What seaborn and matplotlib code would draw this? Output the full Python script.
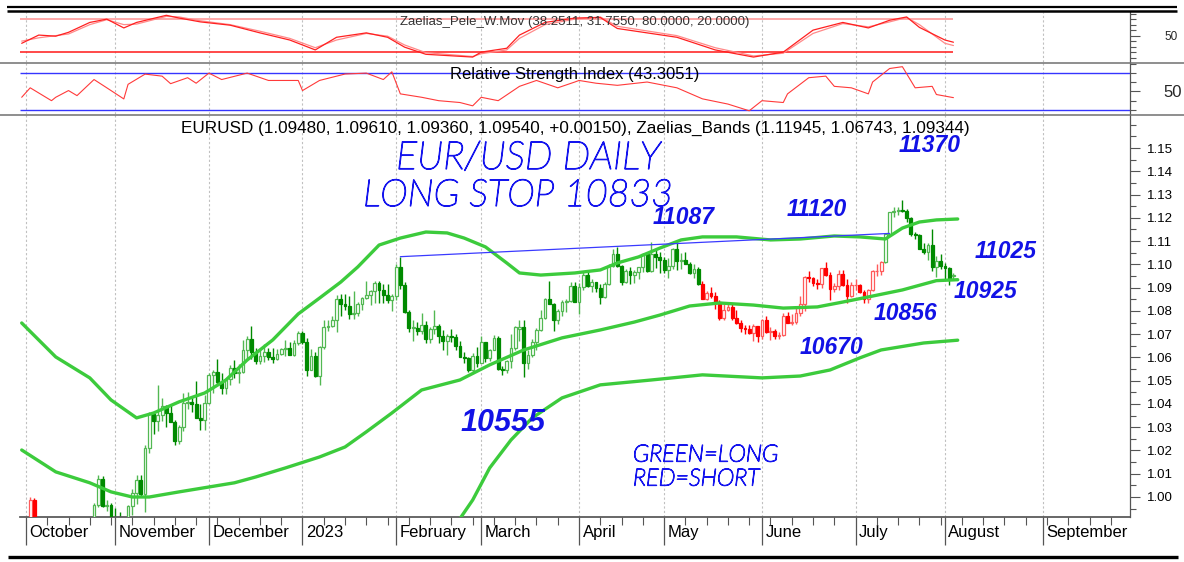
import matplotlib
matplotlib.use("Agg")
import matplotlib.pyplot as plt
import matplotlib.transforms as mtransforms
import matplotlib.patheffects as pe
from matplotlib.lines import Line2D
from matplotlib.ticker import FixedLocator
import seaborn as sns
import numpy as np
import pandas as pd

sns.set_theme(style="white")
plt.rcParams["font.family"] = ["Liberation Sans", "DejaVu Sans"]

# ---------------- data (prices in pips, 1/10000) ----------------
# trading-day index 0 = 2022-09-29, first candle at index 2 (2022-10-03)
first_candle = 2

opens = [
    9800, 9823, 9985, 9883, 9793, 9740, 9700, 9707, 9703, 9779, 9723, 9837, 9856, 9776, 9784, 9862, 9876, 9965, 10076, 9963, 9964,
    9882, 9875, 9820, 9750, 9960, 10019, 10073, 10011, 10210, 10355, 10325, 10352, 10393, 10363, 10324, 10242, 10300, 10405, 10410, 10398, 10339, 10329,
    10405, 10523, 10538, 10494, 10467, 10506, 10555, 10535, 10536, 10630, 10680, 10625, 10585, 10606, 10623, 10600, 10593, 10616, 10637, 10640, 10612, 10660,
    10705, 10667, 10546, 10606, 10520, 10645, 10732, 10735, 10761, 10853, 10829, 10822, 10787, 10793, 10831, 10855, 10868, 10885, 10918, 10890, 10870, 10847,
    10862, 10990, 10910, 10795, 10727, 10727, 10712, 10740, 10678, 10722, 10737, 10690, 10670, 10694, 10686, 10648, 10603, 10596, 10547, 10606,
    10577, 10667, 10597, 10633, 10682, 10549, 10545, 10583, 10640, 10722, 10732, 10577, 10612, 10668, 10718, 10770, 10850, 10830, 10760, 10800, 10840, 10843, 10905,
    10840, 10902, 10955, 10905, 10922, 10900, 10860, 10915, 10992, 11046, 10993, 10925, 10972, 10955, 10965, 10990, 11045, 10972, 11045, 11030,
    11020, 10975, 10995, 11065, 11015, 11020, 11003, 10962, 10982, 10915, 10850, 10875, 10863, 10840, 10770, 10805, 10815, 10770, 10750, 10725, 10720, 10705, 10735,
    10690, 10762, 10710, 10712, 10692, 10698, 10780, 10750, 10752, 10790, 10830, 10945, 10940, 10920, 10915, 10985, 10955, 10895, 10905, 10960, 10910, 10865,
    10910, 10910, 10882, 10850, 10890, 10970, 10970, 11010, 11130, 11225, 11230, 11235, 11230, 11200, 11130, 11125, 11065, 11055, 11085, 10990, 11015,
    10995, 10985, 10948,
]
highs = [
    9854, 9999, 9997, 9897, 9811, 9746, 9741, 9741, 9808, 9808, 9852, 9874, 9870, 9875, 9870, 9875, 9976, 10093, 10090, 9985, 9974,
    9954, 9935, 9828, 9964, 10033, 10093, 10095, 10222, 10364, 10362, 10481, 10426, 10394, 10399, 10330, 10308, 10448, 10453, 10433, 10497, 10400, 10440,
    10534, 10545, 10595, 10531, 10510, 10567, 10590, 10570, 10673, 10694, 10736, 10640, 10640, 10658, 10639, 10639, 10638, 10642, 10673, 10665, 10674, 10713,
    10713, 10683, 10638, 10622, 10650, 10760, 10760, 10776, 10868, 10874, 10874, 10865, 10887, 10839, 10860, 10927, 10890, 10929, 10929, 10914, 10915, 10871,
    11000, 11033, 10925, 10802, 10760, 10754, 10791, 10756, 10730, 10804, 10745, 10718, 10700, 10722, 10700, 10670, 10625, 10600, 10620, 10645,
    10691, 10668, 10635, 10695, 10694, 10563, 10590, 10701, 10737, 10760, 10760, 10630, 10680, 10725, 10803, 10855, 10930, 10835, 10808, 10845, 10850, 10926, 10925,
    10920, 10973, 10972, 10935, 10925, 10915, 10926, 11000, 11067, 11075, 10998, 10980, 10990, 10975, 10990, 11047, 11050, 11095, 11060, 11055,
    11030, 11027, 11072, 11092, 11050, 11055, 11010, 11000, 10989, 10930, 10885, 10903, 10880, 10845, 10830, 10830, 10830, 10805, 10760, 10740, 10740, 10745, 10736,
    10767, 10780, 10730, 10720, 10710, 10790, 10795, 10788, 10823, 10865, 10950, 10970, 10945, 10935, 10985, 11012, 10965, 10920, 10975, 10975, 10935, 10925,
    10935, 10915, 10890, 10895, 10975, 11000, 11015, 11130, 11225, 11245, 11245, 11276, 11240, 11205, 11140, 11130, 11090, 11090, 11150, 11035, 11045,
    11005, 10990, 10961,
]
lows = [
    9737, 9817, 9836, 9791, 9731, 9671, 9672, 9669, 9632, 9705, 9716, 9796, 9770, 9758, 9705, 9808, 9858, 9958, 9955, 9939, 9872,
    9851, 9813, 9730, 9746, 9924, 9969, 10002, 9936, 10188, 10271, 10284, 10327, 10300, 10326, 10223, 10226, 10284, 10380, 10365, 10339, 10290, 10290,
    10398, 10447, 10487, 10443, 10443, 10481, 10510, 10490, 10534, 10597, 10595, 10570, 10570, 10580, 10588, 10574, 10590, 10611, 10605, 10611, 10608, 10654,
    10656, 10519, 10545, 10515, 10483, 10635, 10713, 10730, 10710, 10780, 10805, 10765, 10766, 10780, 10805, 10850, 10826, 10835, 10835, 10833, 10836, 10800,
    10845, 10895, 10792, 10708, 10670, 10696, 10700, 10660, 10660, 10700, 10660, 10632, 10612, 10668, 10630, 10600, 10577, 10536, 10533, 10560,
    10577, 10580, 10585, 10630, 10547, 10524, 10531, 10555, 10630, 10670, 10516, 10550, 10600, 10634, 10712, 10765, 10830, 10715, 10745, 10780, 10797, 10840, 10838,
    10788, 10890, 10904, 10880, 10880, 10831, 10855, 10910, 10988, 10987, 10910, 10920, 10915, 10920, 10935, 10965, 10966, 10966, 10985, 10962,
    10963, 10942, 10982, 10975, 10981, 11000, 10960, 10940, 10910, 10850, 10845, 10855, 10810, 10760, 10760, 10800, 10760, 10745, 10710, 10700, 10700, 10670, 10665,
    10680, 10705, 10675, 10680, 10680, 10690, 10760, 10740, 10745, 10780, 10800, 10925, 10905, 10895, 10900, 10950, 10845, 10880, 10890, 10905, 10835, 10860,
    10890, 10875, 10835, 10835, 10885, 10950, 10955, 11005, 11125, 11205, 11210, 11225, 11180, 11120, 11110, 11065, 11045, 11020, 10970, 10945, 10980,
    10935, 10912, 10936,
]
closes = [
    9823, 9985, 9883, 9793, 9740, 9700, 9707, 9703, 9779, 9723, 9837, 9856, 9776, 9784, 9862, 9876, 9965, 10076, 9963, 9964, 9882,
    9875, 9820, 9750, 9960, 10019, 10073, 10011, 10210, 10355, 10325, 10352, 10393, 10363, 10324, 10242, 10300, 10405, 10410, 10398, 10339, 10329, 10405,
    10523, 10538, 10494, 10467, 10506, 10555, 10535, 10536, 10630, 10680, 10625, 10585, 10606, 10623, 10600, 10593, 10616, 10637, 10640, 10612, 10660, 10705,
    10667, 10546, 10606, 10520, 10645, 10732, 10735, 10761, 10853, 10829, 10822, 10787, 10793, 10831, 10855, 10868, 10885, 10918, 10890, 10870, 10847, 10862,
    10990, 10910, 10795, 10727, 10730, 10712, 10740, 10678, 10722, 10737, 10690, 10670, 10694, 10686, 10648, 10603, 10596, 10547, 10606, 10577,
    10667, 10597, 10633, 10682, 10549, 10545, 10583, 10640, 10732, 10732, 10577, 10612, 10668, 10718, 10770, 10850, 10830, 10760, 10800, 10840, 10843, 10905, 10840,
    10902, 10955, 10905, 10922, 10900, 10860, 10915, 10992, 11046, 10993, 10925, 10972, 10955, 10965, 10990, 11045, 10972, 11045, 11030, 11020,
    10975, 10995, 11065, 11015, 11020, 11003, 10962, 10982, 10915, 10850, 10875, 10863, 10840, 10770, 10805, 10815, 10770, 10750, 10725, 10720, 10705, 10735, 10690,
    10762, 10710, 10712, 10692, 10698, 10780, 10750, 10752, 10790, 10830, 10945, 10940, 10920, 10915, 10985, 10955, 10895, 10905, 10960, 10910, 10865, 10910,
    10910, 10882, 10850, 10890, 10970, 10970, 11010, 11130, 11225, 11230, 11235, 11230, 11200, 11130, 11125, 11065, 11055, 11085, 10990, 11015, 10995,
    10985, 10935, 10954,
]
# periods where the system is short (red candles), by trading-day index
short_spans = [(2, 17), (161, 203)]

# Zaelias bands
upper_idx = [1, 9, 17, 22, 28, 32, 38, 44, 49, 54, 60, 66, 71, 76, 80, 85, 90, 96, 101, 105,
             110, 115, 118, 123, 131, 137, 141, 146, 151, 156, 161, 169, 177, 184, 192, 198, 204, 208, 212, 216, 221]
upper_band = [10748, 10602, 10512, 10417, 10340, 10361, 10409, 10447, 10503, 10589, 10675, 10787, 10855, 10924, 10989, 11083, 11113, 11139, 11135, 11113,
              11075, 11006, 10963, 10954, 10963, 10976, 11006, 11032, 11070, 11105, 11118, 11118, 11105, 11109, 11122, 11118, 11109, 11156, 11182, 11191, 11195]
middle_idx = [1, 9, 17, 22, 27, 31, 38, 45, 51, 56, 63, 71, 77, 82, 88, 95, 104, 111, 119, 128,
              137, 145, 151, 158, 165, 173, 180, 188, 194, 200, 208, 216, 221]
middle_band = [10202, 10108, 10061, 10022, 10000, 10000, 10022, 10043, 10061, 10086, 10125, 10172, 10215, 10280, 10361, 10460, 10503, 10568, 10632, 10684,
               10718, 10752, 10782, 10821, 10834, 10825, 10812, 10817, 10838, 10860, 10890, 10930, 10934]
lower_idx = [100, 103, 107, 111, 116, 121, 128, 137, 149, 161, 175, 184, 191, 198, 203, 213, 221]
lower_band = [9700, 9880, 9987, 10125, 10245, 10340, 10426, 10482, 10503, 10525, 10512, 10520, 10546, 10598, 10632, 10662, 10674]

# resistance line (Feb high -> July breakout)
trend_idx = [90, 205]
trend_val = [11033, 11133]

# Zaelias_Pele_W.Mov oscillator
pele_idx = [1, 5, 9, 12, 17, 21, 25, 28, 35, 38, 43, 50, 57, 64, 70, 75, 82, 87, 91, 96,
            107, 109, 115, 118, 124, 131, 137, 141, 155, 164, 173, 180, 187, 194, 200, 205, 209, 212, 218, 220]
pele_fast = [36, 51, 49, 56, 74, 80, 64, 74, 87, 82, 75, 69, 55, 42, 24, 47, 55, 47, 29, 16,
             11, 20, 27, 51, 74, 82, 83, 63, 47, 24, 11, 20, 60, 74, 64, 78, 84, 65, 42, 38]
pele_slow = [40, 46, 50, 53, 70, 79, 70, 71, 85, 84, 77, 70, 58, 45, 28, 42, 54, 49, 33, 19,
             12, 17, 24, 45, 70, 80, 84, 67, 50, 28, 13, 18, 54, 72, 66, 75, 83, 70, 36, 32]
pele_levels = [80, 20]

# RSI
rsi_idx = [1, 3, 8, 9, 12, 14, 18, 21, 25, 26, 30, 34, 36, 40, 42, 45, 48, 54, 59, 66,
           67, 71, 77, 82, 86, 88, 90, 95, 99, 104, 107, 109, 113, 118, 122, 127, 131, 132, 136, 141,
           148, 155, 161, 167, 172, 175, 180, 181, 186, 190, 192, 196, 200, 201, 205, 208, 211, 215, 216, 220]
rsi_val = [43.7, 54, 40, 43.7, 51, 45.5, 63, 54, 41.9, 57.8, 68.9, 66.7, 58.5, 65, 59, 70, 63, 70, 62, 62,
           51, 62, 69, 70, 63, 71.4, 47.4, 43.7, 40, 38, 34.4, 43.7, 40, 55.6, 62, 54, 60.3, 62, 59, 56.7,
           60.3, 54, 42, 36.3, 29, 40, 38, 47.4, 65, 66.7, 55.6, 54, 47.4, 60.3, 75, 77, 54, 55.6, 46.7, 43.3]
rsi_levels = [70, 30]

month_labels = ["October", "November", "December", "2023", "February", "March", "April",
                "May", "June", "July", "August", "September"]

price_ticks = [1.00, 1.01, 1.02, 1.03, 1.04, 1.05, 1.06, 1.07, 1.08, 1.09, 1.10, 1.11, 1.12, 1.13, 1.14, 1.15]

# ---------------- layout ----------------
W, H = 1184, 562
fig = plt.figure(figsize=(W / 100, H / 100), dpi=100)


def box(top, bottom, left=20, right=1130):
    return [left / W, 1 - bottom / H, (right - left) / W, (bottom - top) / H]


ax_pele = fig.add_axes(box(12, 62))
ax_rsi = fig.add_axes(box(63, 114))
ax = fig.add_axes(box(115, 517))

days = pd.bdate_range("2022-09-29", periods=265)
month_pos = [i for i in range(1, len(days)) if days[i].month != days[i - 1].month][:12]
mondays = [i for i, d in enumerate(days) if d.dayofweek == 0 and i not in month_pos]
xlim = (0.6, 261.5)

for a in (ax_pele, ax_rsi, ax):
    a.set_xlim(*xlim)
    a.set_facecolor("white")
    a.set_xticks(month_pos)
    a.grid(True, axis="x", which="major", color="#c0c0c0", ls=(0, (2, 2)), lw=0.8)
    a.grid(False, axis="y")
    a.yaxis.tick_right()
    for s in ("top", "left", "bottom"):
        a.spines[s].set_visible(False)
    a.spines["right"].set_color("#555555")
    a.spines["right"].set_linewidth(0.9)

# ---------------- main price panel ----------------
cdl = pd.DataFrame({"o": opens, "h": highs, "l": lows, "c": closes}) / 1e4
cdl["x"] = np.arange(first_candle, first_candle + len(cdl))
short = np.zeros(len(cdl), dtype=bool)
for a0, a1 in short_spans:
    short |= ((cdl.x >= a0) & (cdl.x <= a1)).to_numpy()
up = (cdl.c >= cdl.o).to_numpy()
edge = np.where(short, np.where(up, "#ff5a5a", "#ff0000"), np.where(up, "#52b852", "#008a00"))
face = np.where(up, "white", edge)
ax.vlines(cdl.x, cdl.l, cdl.h, colors=edge, lw=1.0, zorder=2)
body_lo = np.minimum(cdl.o, cdl.c)
body_h = np.maximum((cdl.c - cdl.o).abs(), 0.00025)
ax.bar(cdl.x, body_h, bottom=body_lo, width=0.66, color=face, edgecolor=edge, linewidth=0.9, zorder=3)

band_color = "#3ccb3c"
for bx, by in ((upper_idx, upper_band), (middle_idx, middle_band), (lower_idx, lower_band)):
    sns.lineplot(x=bx, y=np.array(by) / 1e4, ax=ax, color=band_color, lw=2.4, zorder=4)
sns.lineplot(x=trend_idx, y=np.array(trend_val) / 1e4, ax=ax, color="#3a3aff", lw=0.9, zorder=5)

ax.set_ylim(0.9914, 1.1642)
ax.set_yticks(price_ticks)
ax.set_yticklabels([f"{v:.2f}" for v in price_ticks])
ax.yaxis.set_minor_locator(FixedLocator(np.arange(0.995, 1.165, 0.005)))
ax.tick_params(axis="y", which="major", right=True, length=7, width=0.8, color="#555555",
               labelsize=9.5, pad=5, labelcolor="black")
ax.tick_params(axis="y", which="minor", right=True, length=4, width=0.8, color="#555555")
ax.spines["bottom"].set_visible(True)
ax.spines["bottom"].set_color("#555555")
ax.set_xticklabels(month_labels)
ax.xaxis.set_minor_locator(FixedLocator(mondays))
ax.tick_params(axis="x", which="major", bottom=True, length=20, width=0.9, color="#555555",
               pad=-14.5, labelsize=12, labelcolor="black")
ax.tick_params(axis="x", which="minor", bottom=True, length=6, width=0.8, color="#555555")
shift = mtransforms.ScaledTranslation(2.5 / 72, 0, fig.dpi_scale_trans)
for lab in ax.get_xticklabels():
    lab.set_horizontalalignment("left")
    lab.set_transform(lab.get_transform() + shift)
ax.set_xlabel("")
ax.set_ylabel("")

# ---------------- Pele W.Mov panel ----------------
ax_pele.hlines(pele_levels, xlim[0], pele_idx[-1], colors=["#ff9a9a", "#ff2a2a"], lw=1.2, zorder=2)
sns.lineplot(x=pele_idx, y=pele_slow, ax=ax_pele, color="#ff8a8a", lw=0.9, zorder=3)
sns.lineplot(x=pele_idx, y=pele_fast, ax=ax_pele, color="#ff2020", lw=0.9, zorder=3)
ax_pele.set_ylim(2, 93)
ax_pele.set_yticks([50])
ax_pele.set_yticklabels(["50"])
ax_pele.yaxis.set_minor_locator(FixedLocator([10, 20, 30, 40, 60, 70, 80, 90]))
ax_pele.tick_params(axis="y", which="major", right=True, length=7, width=0.8, color="#555555",
                    labelsize=8.5, pad=18)
ax_pele.tick_params(axis="y", which="minor", right=True, length=4, width=0.8, color="#555555")
ax_pele.tick_params(axis="x", which="both", bottom=False, labelbottom=False)
ax_pele.set_xlabel("")
ax_pele.set_ylabel("")

# ---------------- RSI panel ----------------
ax_rsi.hlines(rsi_levels, xlim[0], xlim[1], colors="#3535ff", lw=1.0, zorder=2)
sns.lineplot(x=rsi_idx, y=rsi_val, ax=ax_rsi, color="#ff3a3a", lw=0.8, zorder=3)
ax_rsi.set_ylim(25.5, 81)
ax_rsi.set_yticks([50])
ax_rsi.set_yticklabels(["50"])
ax_rsi.yaxis.set_minor_locator(FixedLocator([30, 40, 60, 70, 80]))
ax_rsi.tick_params(axis="y", which="major", right=True, length=7, width=0.8, color="#555555",
                   labelsize=12, pad=17)
ax_rsi.tick_params(axis="y", which="minor", right=True, length=4, width=0.8, color="#555555")
ax_rsi.tick_params(axis="x", which="both", bottom=False, labelbottom=False)
ax_rsi.set_xlabel("")
ax_rsi.set_ylabel("")

# ---------------- frame lines ----------------
def hline(y, x0, x1, color, lw):
    fig.add_artist(Line2D([x0 / W, x1 / W], [1 - y / H, 1 - y / H], transform=fig.transFigure,
                          color=color, lw=lw, solid_capstyle="butt"))


hline(6.8, 7, 1177, "black", 1.6)
hline(10.6, 7, 1177, "black", 1.8)
hline(62.5, 0, 1184, "#707070", 1.1)
hline(114.5, 0, 1184, "#707070", 1.1)
hline(557, 8, 1178, "black", 2.4)

# ---------------- texts ----------------
def ftext(x, y, s, **kw):
    fig.text(x / W, 1 - y / H, s, **kw)


ftext(575, 22, "Zaelias_Pele_W.Mov (38.2511, 31.7550, 80.0000, 20.0000)", ha="center", va="center",
      fontsize=9.5, color="#333333")
ftext(575, 75, "Relative Strength Index (43.3051)", ha="center", va="center", fontsize=12, color="black")
ftext(575, 128, "EURUSD (1.09480, 1.09610, 1.09360, 1.09540, +0.00150), Zaelias_Bands (1.11945, 1.06743, 1.09344)",
      ha="center", va="center", fontsize=12.3, color="black")

ink = "#1414ee"
hand = dict(family=["Lato", "DejaVu Sans"], style="italic", weight="light", color=ink,
            path_effects=[pe.withStroke(linewidth=0.9, foreground=ink)])
ftext(528, 158, "EUR/USD DAILY", ha="center", va="center", fontsize=28, **hand)
ftext(518, 196, "LONG STOP 10833", ha="center", va="center", fontsize=27, **hand)
ftext(633, 455, "GREEN=LONG", ha="left", va="center", fontsize=17, **hand)
ftext(633, 479, "RED=SHORT", ha="left", va="center", fontsize=17, **hand)

num = dict(style="italic", weight="bold", color="#1212e6", ha="center", va="center")
ftext(930, 145, "11370", fontsize=16.5, **num)
ftext(684, 218, "11087", fontsize=16.5, **num)
ftext(817, 209, "11120", fontsize=16.5, **num)
ftext(1006, 251, "11025", fontsize=16.5, **num)
ftext(986, 291, "10925", fontsize=16.5, **num)
ftext(906, 313, "10856", fontsize=16.5, **num)
ftext(832, 347, "10670", fontsize=16.5, **num)
ftext(503, 423, "10555", fontsize=22, **num)

fig.savefig("out.png", dpi=100, facecolor="white")
